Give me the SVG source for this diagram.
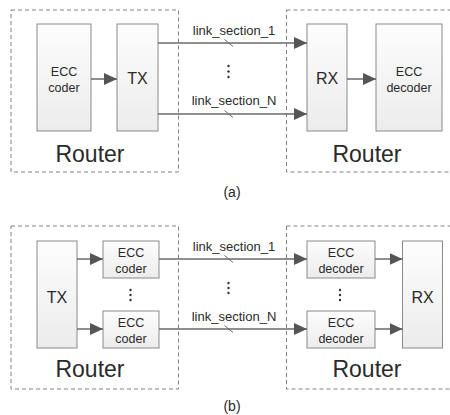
<svg xmlns="http://www.w3.org/2000/svg" width="450" height="415" viewBox="0 0 450 415">
<defs>
<linearGradient id="boxfill" x1="0" y1="0" x2="0" y2="1">
<stop offset="0" stop-color="#fdfdfd"/>
<stop offset="1" stop-color="#ececec"/>
</linearGradient>
<marker id="arr" markerUnits="userSpaceOnUse" markerWidth="13" markerHeight="12" refX="13" refY="6" orient="auto">
<path d="M0,0 L13,6 L0,12 z" fill="#555555"/>
</marker>
<style>
.box{fill:url(#boxfill);stroke:#8a8a8a;stroke-width:1}
.dash{fill:none;stroke:#808080;stroke-width:1;stroke-dasharray:4 3}
.ln{stroke:#6a6a6a;stroke-width:1.5;fill:none}
.sl{stroke:#6a6a6a;stroke-width:1;fill:none}
.dot{fill:#333}
text{font-family:"Liberation Sans",Arial,sans-serif;fill:#2a2a2a;text-anchor:middle}
.sm{font-size:12.5px}
.md{font-size:16px}
.lg{font-size:23px}
.lk{font-size:13px}
.cap{font-size:14px}
</style>
</defs>

<!-- Panel (a) -->
<g id="router-a-left"><rect class="dash" x="11" y="10" width="167.5" height="162"/><text class="lg" x="90" y="162">Router</text></g>
<g id="router-a-right"><rect class="dash" x="286.5" y="10" width="175" height="162"/><text class="lg" x="367" y="162">Router</text></g>
<g id="ecc-coder-a"><rect class="box" x="37" y="24" width="54" height="107"/><text class="sm" x="64" y="76">ECC</text><text class="sm" x="64" y="92">coder</text></g>
<g id="tx-a"><rect class="box" x="117" y="24" width="41" height="107"/><text class="md" x="137.5" y="84">TX</text></g>
<g id="rx-a"><rect class="box" x="307" y="24" width="40" height="107"/><text class="md" x="327" y="84">RX</text></g>
<g id="ecc-decoder-a"><rect class="box" x="376" y="24" width="66" height="107"/><text class="sm" x="409" y="76">ECC</text><text class="sm" x="409" y="92">decoder</text></g>
<g id="label-a"><text class="cap" x="232" y="197">(a)</text></g>

<!-- Panel (b) -->
<g id="router-b-left"><rect class="dash" x="11" y="226" width="167.5" height="163"/><text class="lg" x="90" y="377">Router</text></g>
<g id="router-b-right"><rect class="dash" x="286.5" y="226" width="175" height="163"/><text class="lg" x="367" y="377">Router</text></g>
<g id="tx-b"><rect class="box" x="37" y="241" width="40" height="107"/><text class="md" x="57" y="303">TX</text></g>
<g id="ecc-coder-b1"><rect class="box" x="103" y="241" width="56" height="37"/><text class="sm" x="131" y="257">ECC</text><text class="sm" x="131" y="273">coder</text></g>
<g id="ecc-coder-b2"><rect class="box" x="103" y="311" width="56" height="37"/><text class="sm" x="131" y="327">ECC</text><text class="sm" x="131" y="343">coder</text></g>
<g id="ecc-decoder-b1"><rect class="box" x="307" y="241" width="68" height="37"/><text class="sm" x="341" y="257">ECC</text><text class="sm" x="341" y="273">decoder</text></g>
<g id="ecc-decoder-b2"><rect class="box" x="307" y="311" width="68" height="37"/><text class="sm" x="341" y="327">ECC</text><text class="sm" x="341" y="343">decoder</text></g>
<g id="rx-b"><rect class="box" x="402.5" y="241" width="40" height="107"/><text class="md" x="422.5" y="303">RX</text></g>
<g id="label-b"><text class="cap" x="232" y="411">(b)</text></g>

<g id="connectors">
<!-- (a) -->
<line class="ln" x1="91" y1="79" x2="117" y2="79" marker-end="url(#arr)"/>
<line class="ln" x1="347" y1="79" x2="376" y2="79" marker-end="url(#arr)"/>
<line class="ln" x1="158" y1="43" x2="307" y2="43" marker-end="url(#arr)"/>
<line class="ln" x1="158" y1="114" x2="307" y2="114" marker-end="url(#arr)"/>
<line class="sl" x1="224.5" y1="39.5" x2="233" y2="46.5"/>
<line class="sl" x1="224.5" y1="110.5" x2="233" y2="117.5"/>
<text class="lk" x="234" y="35">link_section_1</text>
<text class="lk" x="234" y="105">link_section_N</text>
<circle class="dot" cx="228.5" cy="66" r="1.2"/><circle class="dot" cx="228.5" cy="71.5" r="1.2"/><circle class="dot" cx="228.5" cy="77" r="1.2"/>
<!-- (b) -->
<line class="ln" x1="77" y1="259" x2="103" y2="259" marker-end="url(#arr)"/>
<line class="ln" x1="77" y1="329" x2="103" y2="329" marker-end="url(#arr)"/>
<line class="ln" x1="159" y1="259" x2="307" y2="259" marker-end="url(#arr)"/>
<line class="ln" x1="159" y1="329" x2="307" y2="329" marker-end="url(#arr)"/>
<line class="ln" x1="375" y1="259" x2="402.5" y2="259" marker-end="url(#arr)"/>
<line class="ln" x1="375" y1="329" x2="402.5" y2="329" marker-end="url(#arr)"/>
<line class="sl" x1="224.5" y1="255.5" x2="233" y2="262.5"/>
<line class="sl" x1="224.5" y1="325.5" x2="233" y2="332.5"/>
<text class="lk" x="234" y="251">link_section_1</text>
<text class="lk" x="234" y="321">link_section_N</text>
<circle class="dot" cx="228.5" cy="283" r="1.2"/><circle class="dot" cx="228.5" cy="288" r="1.2"/><circle class="dot" cx="228.5" cy="293" r="1.2"/>
<circle class="dot" cx="130.5" cy="290" r="1.2"/><circle class="dot" cx="130.5" cy="295" r="1.2"/><circle class="dot" cx="130.5" cy="300" r="1.2"/>
<circle class="dot" cx="340" cy="290" r="1.2"/><circle class="dot" cx="340" cy="295" r="1.2"/><circle class="dot" cx="340" cy="300" r="1.2"/>
</g>
</svg>
